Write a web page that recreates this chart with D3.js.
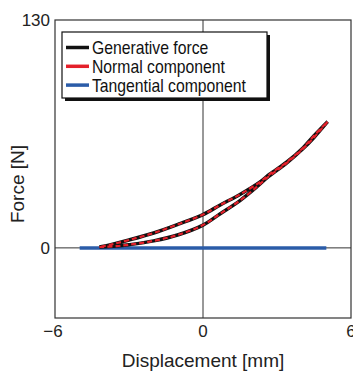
<!DOCTYPE html>
<html lang="en">
<head>
<meta charset="UTF-8">
<title>Force vs displacement</title>
<script src="https://cdnjs.cloudflare.com/ajax/libs/d3/7.8.5/d3.min.js"></script>
<style>
  body { margin: 0; padding: 0; background: #fff; }
  svg { display: block; }
  .tick-label { font-family: 'Liberation Sans', Arial, sans-serif; font-size: 17px; fill: #222; }
  .axis-title { font-family: 'Liberation Sans', Arial, sans-serif; font-size: 19px; fill: #222; }
  .legend-text { font-family: 'Liberation Sans', Arial, sans-serif; font-size: 17.5px; fill: #111; }
</style>
</head>
<body>
<div id="chart"></div>
<script>
// axis ticks
const xTicks = [-6, 0, 6];
const yTicks = [0, 130];

// loop: lower branch (left -> right) then upper branch (right -> left)
const lowerX = [-4.2, -3.5, -3, -2, -1, 0, 0.7, 1.5, 2.2, 2.6, 3.4, 4.05, 4.5, 5.05];
const lowerY = [0.5, 1, 1.8, 4, 7.5, 13, 19.5, 27, 35, 40, 48.5, 56.5, 63, 72];
const upperX = [5.05, 4.5, 4.05, 3.4, 2.7, 2.3, 1.5, 0.7, 0, -1, -2, -3, -3.7, -4.2];
const upperY = [72, 64, 57, 49, 42, 37.5, 30.5, 24.5, 19, 13.5, 8.5, 4.5, 2, 0.5];

// tangential component
const tangX = [-5, 5];
const tangY = [0, 0];

const legendNames = ["Generative force", "Normal component", "Tangential component"];
const legendColors = ["#111111", "#e4202a", "#2b5ca8"];

const width = 353, height = 372;
const plotL = 55, plotR = 351, plotT = 20, plotB = 318;

const svg = d3.select("#chart").append("svg")
  .attr("width", width).attr("height", height);

const x = d3.scaleLinear().domain([-6, 6]).range([plotL, plotR]);
const y = d3.scaleLinear().domain([-40, 130]).range([plotB, plotT]);

// frame
svg.append("rect")
  .attr("x", plotL).attr("y", plotT)
  .attr("width", plotR - plotL).attr("height", plotB - plotT)
  .attr("fill", "none").attr("stroke", "#333").attr("stroke-width", 1.2);

// zero lines
svg.append("line")
  .attr("x1", x(0)).attr("x2", x(0)).attr("y1", plotT).attr("y2", plotB)
  .attr("stroke", "#333").attr("stroke-width", 1);
svg.append("line")
  .attr("x1", plotL).attr("x2", plotR).attr("y1", y(0)).attr("y2", y(0))
  .attr("stroke", "#333").attr("stroke-width", 1);

// tick labels
svg.selectAll(".xt").data(xTicks).join("text")
  .attr("class", "tick-label")
  .attr("x", d => x(d) + (d < 0 ? -2 : 0)).attr("y", 337)
  .attr("text-anchor", "middle")
  .text(d => d < 0 ? "\u2212" + Math.abs(d) : d);

svg.selectAll(".yt").data(yTicks).join("text")
  .attr("class", "tick-label")
  .attr("x", 50).attr("y", d => y(d) + 6)
  .attr("text-anchor", "end")
  .text(d => d);

// axis titles
svg.append("text").attr("class", "axis-title")
  .attr("x", x(0)).attr("y", 367).attr("text-anchor", "middle")
  .text("Displacement [mm]");
svg.append("text").attr("class", "axis-title")
  .attr("transform", `translate(24, 184) rotate(-90)`)
  .attr("text-anchor", "middle")
  .text("Force [N]");

// curves
const loopPts = lowerX.map((v, i) => [v, lowerY[i]])
  .concat(upperX.map((v, i) => [v, upperY[i]]));
const line = d3.line()
  .x(d => x(d[0])).y(d => y(d[1]))
  .curve(d3.curveCatmullRom.alpha(0.5));

svg.append("path")
  .attr("d", line(tangX.map((v, i) => [v, tangY[i]])))
  .attr("fill", "none").attr("stroke", legendColors[2]).attr("stroke-width", 3.5);

svg.append("path")
  .attr("d", line(loopPts))
  .attr("fill", "none").attr("stroke", legendColors[0]).attr("stroke-width", 3.5);
svg.append("path")
  .attr("d", line(loopPts))
  .attr("fill", "none").attr("stroke", legendColors[1]).attr("stroke-width", 2.2)
  .attr("stroke-dasharray", "5,3");

// legend
const lg = svg.append("g");
lg.append("rect")
  .attr("x", 65).attr("y", 35).attr("width", 205).attr("height", 66)
  .attr("fill", "#111");
lg.append("rect")
  .attr("x", 62).attr("y", 32).attr("width", 205).attr("height", 66)
  .attr("fill", "#fff").attr("stroke", "#111").attr("stroke-width", 1.2);

const rows = lg.selectAll(".row").data(legendNames).join("g")
  .attr("transform", (d, i) => `translate(0, ${47.5 + i * 18.8})`);
rows.append("line")
  .attr("x1", 66).attr("x2", 89)
  .attr("stroke", (d, i) => legendColors[i]).attr("stroke-width", 3.5);
rows.append("text").attr("class", "legend-text")
  .attr("transform", "translate(92, 6.5) scale(0.9, 1)")
  .text(d => d);
</script>
</body>
</html>
